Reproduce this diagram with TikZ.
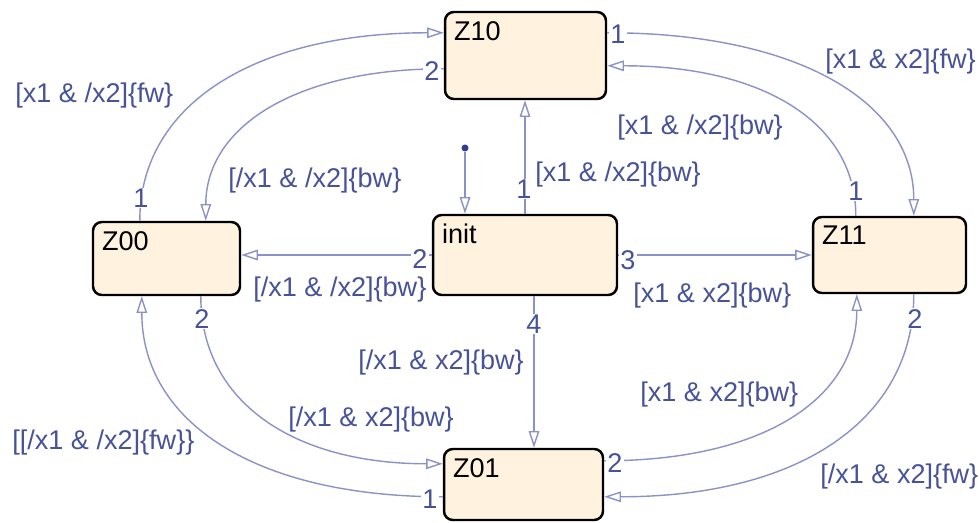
\documentclass[tikz,border=0pt]{standalone}
\usepackage{fontspec}
\setmainfont{Liberation Sans}
\usetikzlibrary{arrows.meta,calc}
\definecolor{linecol}{RGB}{138,146,200}
\definecolor{txtcol}{RGB}{72,82,152}
\definecolor{statefill}{RGB}{255,242,222}
\definecolor{dotcol}{RGB}{50,60,150}
\begin{document}
\begin{tikzpicture}[x=0.02cm,y=-0.02cm,
  statebox/.style={draw=black,line width=1.4pt,rounded corners=5pt,fill=statefill,inner sep=0pt},
  sname/.style={anchor=north west,inner sep=0pt,text=black,font=\fontsize{15.4}{18}\selectfont},
  trans/.style={draw=linecol,line width=0.8pt,-{Triangle[length=9.5pt,width=6pt,fill=white]}},
  cond/.style={anchor=west,inner sep=0pt,text=txtcol,font=\fontsize{15.4}{18}\selectfont},
  num/.style={fill=white,inner sep=0.6pt,text=txtcol,font=\fontsize{15.4}{18}\selectfont}]
\useasboundingbox (0,0) rectangle (980,523);

% states
\node[statebox,minimum width=3.22cm,minimum height=1.74cm] (Z10) at (525.5,55.5) {};
\node[statebox,minimum width=2.94cm,minimum height=1.46cm] (Z00) at (166.5,258.5) {};
\node[statebox,minimum width=3.68cm,minimum height=1.60cm] (init) at (525,255) {};
\node[statebox,minimum width=3.06cm,minimum height=1.52cm] (Z11) at (889.5,255) {};
\node[statebox,minimum width=3.18cm,minimum height=1.42cm] (Z01) at (523.5,484.5) {};

\node[sname] (tZ10) at ($(Z10.north west)+(10,10)$) {Z10};
\node[sname] (tZ00) at ($(Z00.north west)+(10,10)$) {Z00};
\node[sname] (tinit) at ($(init.north west)+(10,10)$) {init};
\node[sname] (tZ11) at ($(Z11.north west)+(10,10)$) {Z11};
\node[sname] (tZ01) at ($(Z01.north west)+(10,10)$) {Z01};

% default transition
\node[circle,fill=dotcol,inner sep=0pt,minimum size=0.14cm] (dot) at (465,148) {};
\draw[trans] (dot) -- (dot |- init.north);

% curved transitions
\draw[trans] ($(Z00.north west)+(48,0)$) .. controls +(0,-117) and +(-188,0) .. ($(Z10.north west)+(0,22)$);
\draw[trans] ($(Z10.north west)+(0,58)$) .. controls +(-148,0) and +(0,-94) .. ($(Z00.north west)+(114,0)$);
\draw[trans] ($(Z10.north east)+(0,22)$) .. controls +(192,0) and +(0,-113) .. ($(Z11.north west)+(102,0)$);
\draw[trans] ($(Z11.north west)+(44,0)$) .. controls +(0,-93) and +(156,0) .. ($(Z10.north east)+(0,55)$);
\draw[trans] ($(Z00.south west)+(109,0)$) .. controls +(0,105) and +(-150,0) .. ($(Z01.north west)+(0,16)$);
\draw[trans] ($(Z01.north west)+(0,49)$) .. controls +(-187,0) and +(0,126) .. ($(Z00.south west)+(50,0)$);
\draw[trans] ($(Z01.north east)+(0,13)$) .. controls +(158,0) and +(0,105) .. ($(Z11.south west)+(45,0)$);
\draw[trans] ($(Z11.south west)+(102,0)$) .. controls +(0,127) and +(193,0) .. ($(Z01.north east)+(0,49)$);

% straight transitions from init
\draw[trans] (init.north) -- (init.north |- Z10.south);
\draw[trans] (init.west) -- (init.west -| Z00.east);
\draw[trans] (init.east) -- (init.east -| Z11.west);
\draw[trans] ($(init.south)+(9,0)$) coordinate (ib) -- (ib |- Z01.north);

% transition order numbers
\node[num] (o1) at (141,198) {1};
\node[num] (o2) at (432,71) {2};
\node[num] (o3) at (618,34) {1};
\node[num] (o4) at (856,191) {1};
\node[num] (o5) at (524,189) {1};
\node[num] (o6) at (420,259) {2};
\node[num] (o7) at (628,260) {3};
\node[num] (o8) at (534,324) {4};
\node[num] (o9) at (202,319) {2};
\node[num] (o10) at (430,499) {1};
\node[num] (o11) at (615,463) {2};
\node[num] (o12) at (915,319) {2};

% conditions
\node[cond] (c1) at (15,96) {[x1 \& /x2]\{fw\}};
\node[cond] (c2) at (228,181) {[/x1 \& /x2]\{bw\}};
\node[cond] (c3) at (825,62) {[x1 \& x2]\{fw\}};
\node[cond] (c4) at (617,128) {[x1 \& /x2]\{bw\}};
\node[cond] (c5) at (535,175) {[x1 \& /x2]\{bw\}};
\node[cond] (c6) at (253,290) {[/x1 \& /x2]\{bw\}};
\node[cond] (c7) at (633,296) {[x1 \& x2]\{bw\}};
\node[cond] (c8) at (358,363) {[/x1 \& x2]\{bw\}};
\node[cond] (c9) at (288,420) {[/x1 \& x2]\{bw\}};
\node[cond] (c10) at (640,395) {[x1 \& x2]\{bw\}};
\node[cond] (c11) at (12,443) {[[/x1 \& /x2]\{fw\}\}};
\node[cond] (c12) at (820,477) {[/x1 \& x2]\{fw\}};
\end{tikzpicture}
\end{document}
